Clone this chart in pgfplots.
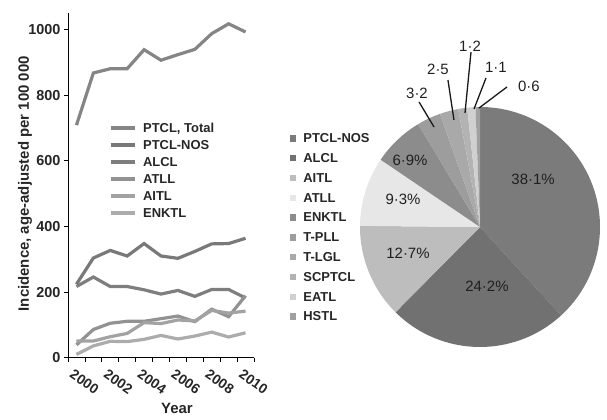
\documentclass[border=0pt]{standalone}
\usepackage{fontspec}
\setmainfont{Liberation Sans}
\usepackage{pgfplots}
\pgfplotsset{compat=1.18}
\definecolor{cTot}{HTML}{858585}
\definecolor{cNOS}{HTML}{797979}
\definecolor{cALCL}{HTML}{7E7E7E}
\definecolor{cATLL}{HTML}{929292}
\definecolor{cAITL}{HTML}{A2A2A2}
\definecolor{cENKTL}{HTML}{ACACAC}
\definecolor{pNOS}{HTML}{7B7B7B}
\definecolor{pALCL}{HTML}{717171}
\definecolor{pAITL}{HTML}{BDBDBD}
\definecolor{pATLL}{HTML}{E7E7E8}
\definecolor{pENKTL}{HTML}{8C8C8C}
\definecolor{pTPLL}{HTML}{9D9D9D}
\definecolor{pTLGL}{HTML}{A9A9A9}
\definecolor{pSCP}{HTML}{B3B3B3}
\definecolor{pEATL}{HTML}{D0D0D0}
\definecolor{pHSTL}{HTML}{A0A0A0}
\begin{document}
\begin{tikzpicture}
\path[use as bounding box] (0bp,0bp) rectangle (607bp,420bp);
\begin{axis}[
  at={(68bp,62.3bp)}, anchor=south west,
  scale only axis, width=186bp, height=344.4bp,
  xmin=1999.5, xmax=2010.5, ymin=0, ymax=1050,
  axis lines=left, axis line style={-, line width=0.9bp, black},
  xtick={2000,2002,2004,2006,2008,2010},
  xticklabels={2000,2002,2004,2006,2008,2010},
  minor xtick={1999.5,2000.5,...,2010.5},
  major x tick style={draw=none},
  minor x tick style={black, line width=0.8bp},
  minor tick length=4bp,
  ytick={0,200,400,600,800,1000},
  major tick length=4bp,
  y tick style={black, line width=0.8bp},
  tick align=outside,
  /pgf/number format/assume math mode=true,
  /pgf/number format/1000 sep={},
  tick label style={font=\bfseries\fontsize{14.5}{16}\selectfont, text=black!85},
  x tick label style={font=\bfseries\fontsize{14}{16}\selectfont, anchor=center, xshift=8bp, yshift=-20bp, rotate=-35},
  ylabel={Incidence, age-adjusted per 100 000},
  ylabel style={at={(axis description cs:-0.231,0.505)}, anchor=center, font=\bfseries\fontsize{15}{17}\selectfont, text=black!85},
  xlabel={Year},
  xlabel style={at={(axis description cs:0.586,-0.146)}, anchor=center, font=\bfseries\fontsize{15}{17}\selectfont, text=black!85},
  legend image code/.code={\draw[#1, line width=3.2bp] (0bp,0bp) -- (24bp,0bp);},
  legend cell align=left,
  legend style={draw=none, fill=none, inner sep=0pt, outer sep=0pt,
    at={(axis description cs:0.220,0.6916)}, anchor=north west,
    column sep=7bp, row sep=0pt,
    font=\bfseries\fontsize{13}{15}\selectfont, text=black!85,
    nodes={inner sep=0pt, text height=13.1bp, text depth=3.9bp}},
]
\addplot[cTot, line width=3.2bp, mark=none] coordinates {(2000,709) (2001,868) (2002,881) (2003,881) (2004,939) (2005,907) (2006,924) (2007,940) (2008,988) (2009,1018) (2010,993)};
\addlegendentry{PTCL, Total}
\addplot[cNOS, line width=3.2bp, mark=none] coordinates {(2000,224) (2001,304) (2002,327) (2003,310) (2004,348) (2005,310) (2006,303) (2007,324) (2008,347) (2009,348) (2010,364)};
\addlegendentry{PTCL-NOS}
\addplot[cALCL, line width=3.2bp, mark=none] coordinates {(2000,217) (2001,246) (2002,217) (2003,217) (2004,207) (2005,194) (2006,205) (2007,187) (2008,208) (2009,208) (2010,182)};
\addlegendentry{ALCL}
\addplot[cATLL, line width=3.2bp, mark=none] coordinates {(2000,39) (2001,86) (2002,105) (2003,111) (2004,111) (2005,119) (2006,127) (2007,110) (2008,148) (2009,125) (2010,189)};
\addlegendentry{ATLL}
\addplot[cAITL, line width=3.2bp, mark=none] coordinates {(2000,51) (2001,51) (2002,64) (2003,74) (2004,107) (2005,104) (2006,115) (2007,112) (2008,144) (2009,136) (2010,142)};
\addlegendentry{AITL}
\addplot[cENKTL, line width=3.2bp, mark=none] coordinates {(2000,10) (2001,36) (2002,50) (2003,49) (2004,56) (2005,68) (2006,57) (2007,66) (2008,78) (2009,63) (2010,76)};
\addlegendentry{ENKTL}
\end{axis}

\begin{axis}[
  at={(480bp,193bp)}, anchor=center,
  scale only axis, width=240bp, height=240bp,
  xmin=-1, xmax=1, ymin=-1, ymax=1,
  hide axis, clip=false,
  legend cell align=left,
  legend style={draw=none, fill=none, inner sep=0pt, outer sep=0pt,
    at={(axis description cs:-0.2917,0.912)}, anchor=north west,
    column sep=7.6bp, row sep=0pt,
    font=\bfseries\fontsize{13}{15}\selectfont, text=black!85,
    nodes={inner sep=0pt, text height=14.5bp, text depth=5.3bp}},
]
\def\cum{0}
\foreach \v/\c in {38.1/pNOS,24.2/pALCL,12.7/pAITL,9.3/pATLL,6.9/pENKTL,3.2/pTPLL,2.5/pTLGL,1.2/pSCP,1.1/pEATL,0.6/pHSTL}{%
  \pgfmathsetmacro\a{90-\cum/99.8*360}%
  \pgfmathsetmacro\b{90-(\cum+\v)/99.8*360}%
  \edef\tmp{\noexpand\fill[\c] (axis cs:0,0) -- (axis cs:{cos(\a)},{sin(\a)}) arc[start angle=\a, end angle=\b, radius=120bp] -- cycle;}%
  \tmp
  \pgfmathsetmacro\n{\cum+\v}%
  \global\let\cum\n
}
\addlegendimage{legend image code/.code={\fill[pNOS] (0bp,-2.7bp) rectangle (5.4bp,2.7bp);}}
\addlegendimage{legend image code/.code={\fill[pALCL] (0bp,-2.7bp) rectangle (5.4bp,2.7bp);}}
\addlegendimage{legend image code/.code={\fill[pAITL] (0bp,-2.7bp) rectangle (5.4bp,2.7bp);}}
\addlegendimage{legend image code/.code={\fill[pATLL] (0bp,-2.7bp) rectangle (5.4bp,2.7bp);}}
\addlegendimage{legend image code/.code={\fill[pENKTL] (0bp,-2.7bp) rectangle (5.4bp,2.7bp);}}
\addlegendimage{legend image code/.code={\fill[pTPLL] (0bp,-2.7bp) rectangle (5.4bp,2.7bp);}}
\addlegendimage{legend image code/.code={\fill[pTLGL] (0bp,-2.7bp) rectangle (5.4bp,2.7bp);}}
\addlegendimage{legend image code/.code={\fill[pSCP] (0bp,-2.7bp) rectangle (5.4bp,2.7bp);}}
\addlegendimage{legend image code/.code={\fill[pEATL] (0bp,-2.7bp) rectangle (5.4bp,2.7bp);}}
\addlegendimage{legend image code/.code={\fill[pHSTL] (0bp,-2.7bp) rectangle (5.4bp,2.7bp);}}
\legend{PTCL-NOS,ALCL,AITL,ATLL,ENKTL,T-PLL,T-LGL,SCPTCL,EATL,HSTL}
\begin{scope}[every node/.style={font=\fontsize{15}{17}\selectfont, text=black!88, inner sep=0pt}]
\node at (axis cs:0.442,0.4) {38·1\%};
\node at (axis cs:0.058,-0.492) {24·2\%};
\node at (axis cs:-0.6,-0.217) {12·7\%};
\node at (axis cs:-0.642,0.233) {9·3\%};
\node at (axis cs:-0.583,0.558) {6·9\%};
\node at (axis cs:-0.525,1.117) {3·2};
\node at (axis cs:-0.35,1.317) {2·5};
\node at (axis cs:-0.083,1.508) {1·2};
\node at (axis cs:0.133,1.333) {1·1};
\node at (axis cs:0.408,1.175) {0·6};
\end{scope}
\draw[black!90, line width=1.3bp] (axis cs:-0.508,1.042) -- (axis cs:-0.383,0.833);
\draw[black!90, line width=1.3bp] (axis cs:-0.267,1.225) -- (axis cs:-0.217,0.892);
\draw[black!90, line width=1.3bp] (axis cs:-0.075,1.458) -- (axis cs:-0.125,0.95);
\draw[black!90, line width=1.3bp] (axis cs:0.05,1.242) -- (axis cs:-0.05,0.983);
\draw[black!90, line width=1.3bp] (axis cs:0.225,1.167) -- (axis cs:-0.01,0.99);
\end{axis}
\end{tikzpicture}
\end{document}
